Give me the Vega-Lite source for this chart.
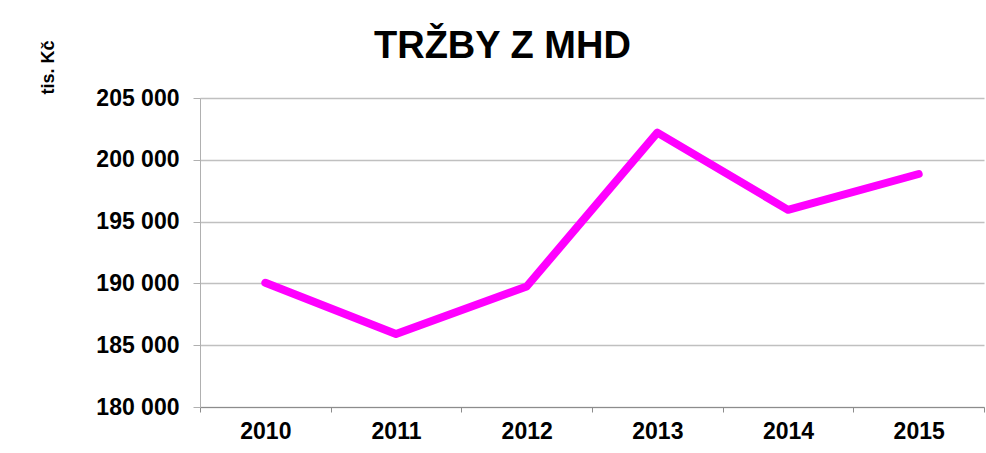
{
  "$schema": "https://vega.github.io/schema/vega-lite/v6.json",
  "width": 784,
  "height": 309,
  "autosize": {"type": "none"},
  "padding": {"left": 200, "top": 98, "right": 2, "bottom": 46},
  "background": "white",
  "title": {
    "text": "TRŽBY Z MHD",
    "font": "Liberation Sans",
    "fontSize": 38,
    "fontWeight": "bold",
    "color": "black",
    "anchor": "start",
    "frame": "group",
    "dx": 174,
    "offset": 0,
    "dy": 56,
    "baseline": "alphabetic"
  },
  "data": {
    "values": [
      {"rok": "2010", "trzby": 190050},
      {"rok": "2011", "trzby": 185900},
      {"rok": "2012", "trzby": 189750},
      {"rok": "2013", "trzby": 202200},
      {"rok": "2014", "trzby": 195950},
      {"rok": "2015", "trzby": 198850}
    ]
  },
  "mark": {"type": "line", "color": "#ff00ff", "strokeWidth": 8, "strokeCap": "round", "strokeJoin": "round"},
  "encoding": {
    "x": {
      "field": "rok",
      "type": "ordinal",
      "scale": {"type": "band", "paddingInner": 0, "paddingOuter": 0},
      "axis": {
        "title": null,
        "labelAngle": 0,
        "tickBand": "extent",
        "grid": false,
        "domainColor": "#8c8c8c",
        "tickColor": "#8c8c8c",
        "tickSize": 5,
        "labelPadding": 8,
        "labelFont": "Liberation Sans",
        "labelFontSize": 23,
        "labelFontWeight": "bold",
        "labelColor": "black"
      }
    },
    "y": {
      "field": "trzby",
      "type": "quantitative",
      "scale": {"domain": [180000, 205000], "nice": false, "zero": false},
      "axis": {
        "values": [180000, 185000, 190000, 195000, 200000, 205000],
        "format": ",d",
        "title": "tis. Kč",
        "titleFont": "Liberation Sans",
        "titleFontSize": 18,
        "titleFontWeight": "bold",
        "titleColor": "black",
        "titleAnchor": "end",
        "titleAlign": "right",
        "titleBaseline": "middle",
        "titleAngle": -90,
        "titleX": -152,
        "titleY": -58,
        "grid": true,
        "gridColor": "#c0c0c0",
        "gridWidth": 1.5,
        "domainColor": "#b0b0b0",
        "tickColor": "#b0b0b0",
        "tickSize": 7,
        "labelPadding": 14,
        "labelFont": "Liberation Sans",
        "labelFontSize": 23,
        "labelFontWeight": "bold",
        "labelColor": "black"
      }
    }
  },
  "config": {
    "view": {"stroke": null},
    "locale": {"number": {"decimal": ",", "thousands": " ", "grouping": [3], "currency": ["", " Kč"]}}
  }
}
